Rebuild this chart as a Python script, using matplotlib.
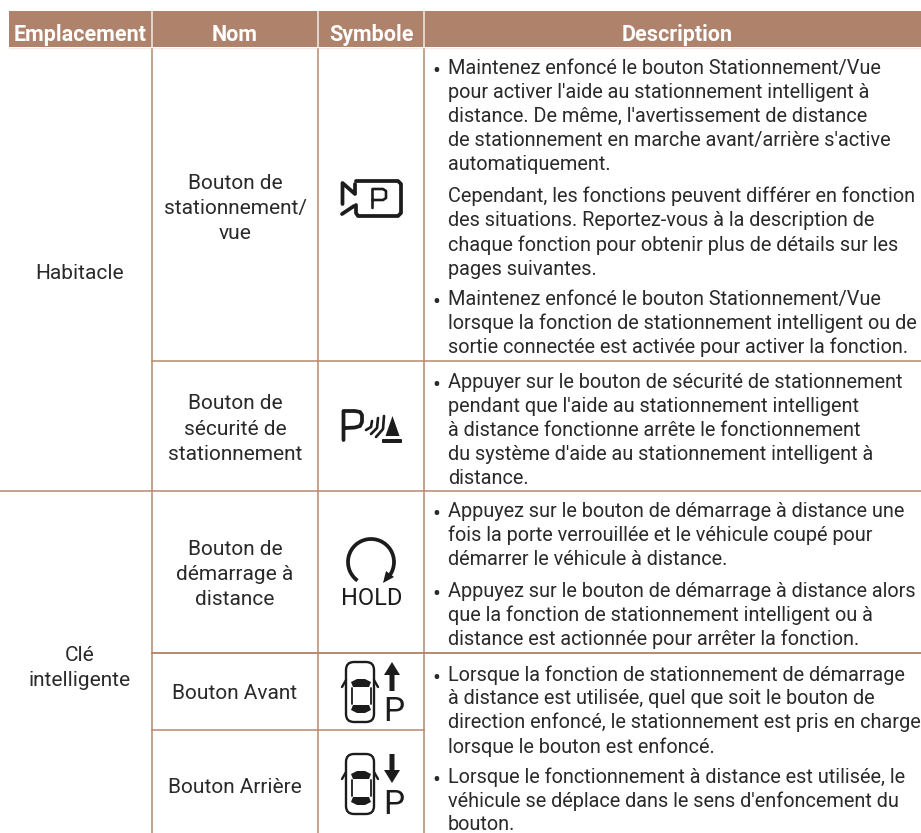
import matplotlib
matplotlib.use("Agg")
import matplotlib.pyplot as plt
from matplotlib.patches import Rectangle, FancyBboxPatch, Polygon, Arc
from matplotlib.lines import Line2D

FONT = "Roboto"
headers = ["Emplacement", "Nom", "Symbole", "Description"]
locations = [(279, "Habitacle"), (661, "Clé"), (686, "intelligente")]
names = [(189, "Bouton de"), (214, "stationnement/"), (239, "vue"),
         (409, "Bouton de"), (434.5, "sécurité de"), (460, "stationnement"),
         (555, "Bouton de"), (580, "démarrage à"), (605, "distance"),
         (699, "Bouton Avant"), (793, "Bouton Arrière")]
desc_lines = [
 (74,"• ","Maintenez enfoncé le bouton Stationnement/Vue"),
 (98,"","pour activer l'aide au stationnement intelligent à"),
 (122,"","distance. De même, l'avertissement de distance"),
 (146,"","de stationnement en marche avant/arrière s'active"),
 (170,"","automatiquement."),
 (202,"","Cependant, les fonctions peuvent différer en fonction"),
 (226,"","des situations. Reportez-vous à la description de"),
 (250.5,"","chaque fonction pour obtenir plus de détails sur les"),
 (275,"","pages suivantes."),
 (305,"• ","Maintenez enfoncé le bouton Stationnement/Vue"),
 (329,"","lorsque la fonction de stationnement intelligent ou de"),
 (353,"","sortie connectée est activée pour activer la fonction."),
 (388,"• ","Appuyer sur le bouton de sécurité de stationnement"),
 (412,"","pendant que l'aide au stationnement intelligent"),
 (436,"","à distance fonctionne arrête le fonctionnement"),
 (460,"","du système d'aide au stationnement intelligent à"),
 (484,"","distance."),
 (517,"• ","Appuyez sur le bouton de démarrage à distance une"),
 (541,"","fois la porte verrouillée et le véhicule coupé pour"),
 (565,"","démarrer le véhicule à distance."),
 (597,"• ","Appuyez sur le bouton de démarrage à distance alors"),
 (621,"","que la fonction de stationnement intelligent ou à"),
 (645,"","distance est actionnée pour arrêter la fonction."),
 (681,"• ","Lorsque la fonction de stationnement de démarrage"),
 (704.5,"","à distance est utilisée, quel que soit le bouton de"),
 (728.5,"","direction enfoncé, le stationnement est pris en charge"),
 (753,"","lorsque le bouton est enfoncé."),
 (783,"• ","Lorsque le fonctionnement à distance est utilisée, le"),
 (807,"","véhicule se déplace dans le sens d'enfoncement du"),
 (830,"","bouton."),
]

HEAD = "#ae826b"
RULE = "#b5896f"
INK = "#2a2a2a"
SIZE = 14.35
NSIZE = 15.0

fig = plt.figure(figsize=(9.21, 8.33), dpi=100, facecolor="white")
ax = fig.add_axes([0, 0, 1, 1])
ax.set_xlim(0, 921); ax.set_ylim(833, 0); ax.axis("off")

# header
ax.add_patch(Rectangle((9, 11), 912, 36, fc=HEAD, ec="none"))
for x in (152, 318, 424):
    ax.plot([x, x], [11, 47], color="#f3ece8", lw=1.1)
ax.plot([9, 921], [47.5, 47.5], color="#f3ece8", lw=1.0)
hx = [80.5, 235, 371, 677]
for x, h in zip(hx, headers):
    ax.text(x, 41, h, color="white", fontsize=15.5, fontweight="bold", family=FONT, ha="center", va="baseline")

# rules
for x in (152, 318, 424):
    ax.plot([x, x], [49, 833], color=RULE, lw=1.1)
ax.plot([0, 921], [491, 491], color=RULE, lw=1.1)
ax.plot([152, 921], [361, 361], color=RULE, lw=1.1)
ax.plot([152, 921], [653, 653], color=RULE, lw=1.4)
ax.plot([152, 424], [730, 730], color=RULE, lw=1.1)

# text
for y, t in locations:
    ax.text(80, y, t, color=INK, fontsize=NSIZE, family=FONT, ha="center", va="baseline")
for y, n in names:
    ax.text(235, y, n, color=INK, fontsize=NSIZE, family=FONT, ha="center", va="baseline")
for y, b, t in desc_lines:
    if b:
        ax.text(436, y - 2.6, "•", color=INK, fontsize=15, family="Noto Sans", ha="center", va="center")
    ax.text(448, y, t, color=INK, fontsize=SIZE, family=FONT, ha="left", va="baseline")

K = "#1c1c1c"
def line(xs, ys, lw=2.0):
    ax.add_line(Line2D(xs, ys, color=K, lw=lw, solid_capstyle="round", solid_joinstyle="round"))

# camera P icon
line([356, 398, 401, 401, 398, 358, 356, 356], [181, 181, 184, 213, 216, 216, 213, 205], 2.7)
line([342.5, 342.5, 355, 355], [204, 183, 194, 184], 2.7)
line([342, 354], [214, 206], 2.7)
line([372.5, 372.5, 383, 386, 386, 383, 373], [208, 189, 189, 191, 198, 200, 200], 1.9)

# parking sensor icon
line([343.5, 343.5, 355, 360, 362, 362, 360, 355, 346], [440, 411, 411, 412, 415, 422, 426, 427.5, 428], 2.7)
for xs, ys in (([366, 371, 372], [430, 427, 421]),
               ([371, 377, 378], [434, 428, 418]),
               ([376, 383, 384], [437, 429, 416])):
    line(xs, ys, 1.9)
ax.add_patch(Polygon([(392.5, 416), (385.5, 436), (399.5, 436)], fc=K, ec="none"))
ax.add_patch(FancyBboxPatch((383, 440), 18, 2, boxstyle="round,pad=1", fc=K, ec="none"))

# HOLD icon
ax.add_patch(Arc((371, 562), 46, 46, theta1=126, theta2=395, color=K, lw=2.7))
ax.add_patch(Polygon([(383, 583), (394, 577), (386, 571)], fc=K, ec="none"))
ax.text(371.5, 605, "HOLD", color=K, fontsize=17, family=FONT, ha="center", va="baseline")

# car icons
def car(dy):
    ax.add_patch(FancyBboxPatch((350, 666 + dy), 20, 52, boxstyle="round,pad=4,rounding_size=8",
                                fc="none", ec=K, lw=1.7))
    line([346, 342], [680 + dy, 687 + dy], 1.7)
    line([374, 378], [680 + dy, 687 + dy], 1.7)
    ax.add_patch(Polygon([(351, 682 + dy), (357, 679 + dy), (365, 679 + dy), (371, 682 + dy), (369, 687 + dy), (353, 687 + dy)], fc=K, ec="none"))
    ax.add_patch(Polygon([(353, 705 + dy), (369, 705 + dy), (371, 710 + dy), (365, 713 + dy), (357, 713 + dy), (351, 710 + dy)], fc=K, ec="none"))
    line([351.5, 351.5], [688 + dy, 704 + dy], 1.3)
    line([370.5, 370.5], [688 + dy, 704 + dy], 1.3)
car(0)
car(92)
ax.add_patch(Polygon([(392, 662), (400, 675), (394.5, 675), (394.5, 691), (389.5, 691), (389.5, 675), (384, 675)], fc=K, ec="none"))
ax.text(393.5, 721, "P", color=K, fontsize=24, family=FONT, ha="center", va="baseline")
ax.add_patch(Polygon([(392, 783), (400, 770), (394.5, 770), (394.5, 754), (389.5, 754), (389.5, 770), (384, 770)], fc=K, ec="none"))
ax.text(393.5, 814, "P", color=K, fontsize=24, family=FONT, ha="center", va="baseline")

fig.savefig("out.png", dpi=100, facecolor="white")
